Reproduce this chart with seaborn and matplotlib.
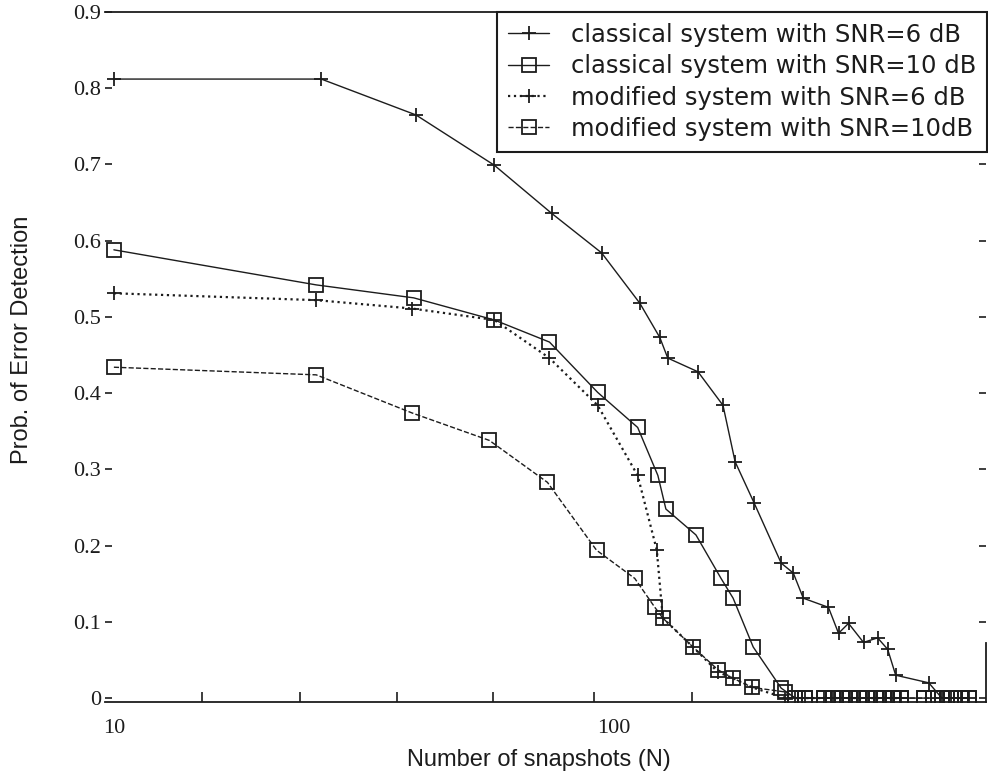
import matplotlib
matplotlib.use("Agg")
import matplotlib.pyplot as plt
import seaborn as sns
from matplotlib.ticker import FixedLocator, NullFormatter

# values (N on a log scale, probability linear)
cls6_n = [10, 26.0, 40.2, 57.7, 75.1, 94.6, 112.8, 123.7, 128.3, 147.5, 165.5,
          175.0, 191.0, 216.4, 228.8, 239.6, 269.0, 281.8, 295.1, 316.2, 337.4,
          353.4, 366.7, 427.1, 453.6, 472.9, 495.3, 513.9]
cls6_p = [0.812, 0.812, 0.765, 0.699, 0.636, 0.584, 0.518, 0.473, 0.446, 0.428, 0.384,
          0.310, 0.256, 0.177, 0.164, 0.131, 0.119, 0.085, 0.098, 0.073, 0.079,
          0.064, 0.030, 0.020, 0.0, 0.0, 0.0, 0.0]

cls10_n = [10, 25.4, 39.8, 57.7, 74.4, 92.9, 111.7, 122.6, 127.2, 146.1, 164.0,
           173.4, 190.2, 216.4, 230.9, 241.8, 264.1, 274.1, 285.7, 296.5, 309.0,
           320.7, 334.3, 346.9, 361.6, 375.2, 417.4, 435.1, 453.6, 472.9, 495.3, 513.9]
cls10_p = [0.588, 0.542, 0.525, 0.496, 0.467, 0.401, 0.355, 0.292, 0.248, 0.214, 0.157,
           0.131, 0.067, 0.013, 0.0, 0.0, 0.0, 0.0, 0.0, 0.0, 0.0,
           0.0, 0.0, 0.0, 0.0, 0.0, 0.0, 0.0, 0.0, 0.0, 0.0, 0.0]

mod6_n = [10, 25.4, 39.5, 57.7, 74.4, 92.9, 111.7, 122.0, 125.4, 144.1, 161.8,
          173.4, 189.3, 220.5, 230.9, 241.8, 264.1, 274.1, 285.7, 296.5, 309.0,
          320.7, 334.3, 346.9, 361.6, 375.2]
mod6_p = [0.531, 0.522, 0.511, 0.496, 0.446, 0.384, 0.292, 0.194, 0.105, 0.067, 0.034,
          0.026, 0.014, 0.0, 0.0, 0.0, 0.0, 0.0, 0.0, 0.0, 0.0,
          0.0, 0.0, 0.0, 0.0, 0.0]

mod10_n = [10, 25.4, 39.5, 56.4, 73.7, 92.4, 110.2, 120.9, 125.4, 144.1, 161.8,
           173.4, 189.3, 220.5, 230.9, 241.8, 264.1, 274.1, 285.7, 296.5, 309.0,
           320.7, 334.3, 346.9, 361.6, 375.2, 417.4, 435.1, 453.6, 472.9, 495.3, 513.9]
mod10_p = [0.434, 0.424, 0.374, 0.338, 0.283, 0.194, 0.157, 0.119, 0.105, 0.067, 0.037,
           0.026, 0.014, 0.008, 0.0, 0.0, 0.0, 0.0, 0.0, 0.0, 0.0,
           0.0, 0.0, 0.0, 0.0, 0.0, 0.0, 0.0, 0.0, 0.0, 0.0, 0.0]

labels = ["classical system with SNR=6 dB", "classical system with SNR=10 dB",
          "modified system with SNR=6 dB", "modified system with SNR=10dB"]

y_ticks = [0, 0.1, 0.2, 0.3, 0.4, 0.5, 0.6, 0.7, 0.8, 0.9]
y_ticklabels = ["0", "0.1", "0.2", "0.3", "0.4", "0.5", "0.6", "0.7", "0.8", "0.9"]
x_ticks = [10, 100]
x_ticklabels = ["10", "100"]
x_minor = [15.0, 23.6, 36.8, 57.4, 91.2, 143.5]

sns.set_theme(style="white")
plt.rcParams["font.family"] = ["Liberation Sans", "DejaVu Sans"]
INK = "#1c1c1c"

fig = plt.figure(figsize=(9.88, 7.83), dpi=100)
ax = fig.add_axes([0.1063, 0.1034, 0.8917, 0.8813])

series = [
    (cls6_n, cls6_p, "-", "+", 1.0, 10),
    (cls10_n, cls10_p, "-", "s", 1.0, 10),
    (mod6_n, mod6_p, ":", "+", 1.6, 10),
    (mod10_n, mod10_p, "--", "s", 1.0, 10),
]
for (n, p, ls, mk, lw, ms), lab in zip(series, labels):
    sns.lineplot(x=n, y=p, ax=ax, estimator=None, sort=False, color=INK,
                 linestyle=ls, linewidth=lw, marker=mk, markersize=ms,
                 markerfacecolor="none", markeredgecolor=INK, markeredgewidth=1.3,
                 label=lab, legend=False)

ax.set_xscale("log")
ax.set_xlim(9.6, 556)
ax.set_ylim(-0.0052, 0.9)

ax.set_xticks(x_ticks)
ax.set_xticklabels(x_ticklabels)
ax.xaxis.set_minor_locator(FixedLocator(x_minor))
ax.xaxis.set_minor_formatter(NullFormatter())
ax.tick_params(axis="x", which="major", length=0, pad=12, labelsize=16,
               labelcolor=INK, labelfontfamily="Liberation Serif")
ax.tick_params(axis="x", which="minor", direction="in", length=7, width=1.2,
               color=INK, bottom=True)

ax.set_yticks(y_ticks)
ax.set_yticklabels(y_ticklabels)
ax.tick_params(axis="y", which="major", direction="in", length=5, width=1.2,
               color=INK, left=True, right=True, pad=3, labelsize=16,
               labelcolor=INK, labelfontfamily="Liberation Serif")

ax.spines["left"].set_visible(False)
for side in ["top", "bottom", "right"]:
    ax.spines[side].set_color(INK)
    ax.spines[side].set_linewidth(1.3)
ax.spines["right"].set_bounds(-0.0052, 0.072)

ax.set_xlabel("Number of snapshots (N)", fontsize=17, color=INK)
ax.set_ylabel("Prob. of Error Detection", fontsize=17, color=INK)
ax.xaxis.set_label_coords(0.4926, -0.068)
ax.yaxis.set_label_coords(-0.082, 0.525)

leg = ax.legend(loc="upper left", bbox_to_anchor=(497 / 988, 1 - 12 / 783),
                bbox_transform=fig.transFigure, borderaxespad=0, frameon=True,
                fancybox=False, edgecolor=INK, framealpha=1,
                handlelength=1.7, handletextpad=0.9, labelspacing=0.3,
                borderpad=0.45, prop={"family": "DejaVu Sans", "size": 17.5})
leg.get_frame().set_linewidth(1.5)
for t in leg.get_texts():
    t.set_color(INK)

fig.savefig("out.png", dpi=100, facecolor="white")
